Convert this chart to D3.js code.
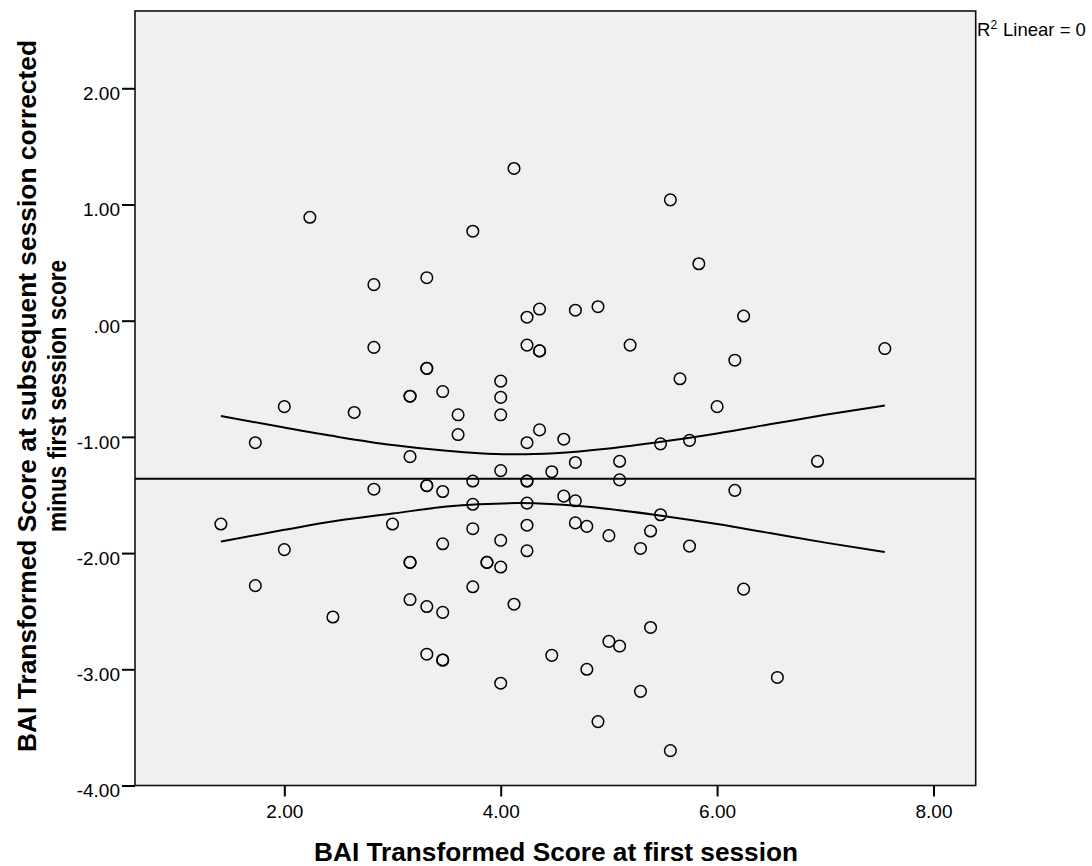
<!DOCTYPE html>
<html>
<head>
<meta charset="utf-8">
<script src="https://cdn.jsdelivr.net/npm/d3@7"></script>
<style>
  body { margin: 0; background: #fff; }
  text { font-family: "Liberation Sans", Arial, sans-serif; fill: #000; }
</style>
</head>
<body>
<div class="container"></div>
<script>
// first session score (sqrt transformed) and change score
var xVals = [1.414, 1.732, 1.732, 2.0, 2.0, 2.236, 2.449, 2.646, 2.828, 2.828, 2.828, 3.0,
  3.162, 3.162, 3.162, 3.162, 3.162, 3.162, 3.317, 3.317, 3.317, 3.317, 3.317, 3.317, 3.317,
  3.464, 3.464, 3.464, 3.464, 3.464, 3.464, 3.606, 3.606, 3.742, 3.742, 3.742, 3.742, 3.742,
  3.873, 3.873, 4.0, 4.0, 4.0, 4.0, 4.0, 4.0, 4.0, 4.123, 4.123, 4.243, 4.243, 4.243, 4.243,
  4.243, 4.243, 4.243, 4.243, 4.359, 4.359, 4.359, 4.359, 4.472, 4.472, 4.583, 4.583, 4.690,
  4.690, 4.690, 4.690, 4.796, 4.796, 4.899, 4.899, 5.0, 5.0, 5.099, 5.099, 5.099, 5.196, 5.292,
  5.292, 5.385, 5.385, 5.477, 5.477, 5.568, 5.568, 5.657, 5.745, 5.745, 5.831, 6.0, 6.164,
  6.164, 6.245, 6.245, 6.557, 6.928, 7.550];
var yVals = [-1.75, -1.05, -2.28, -0.74, -1.97, 0.89, -2.55, -0.79, 0.31, -0.23, -1.45, -1.75,
  -0.65, -0.65, -1.17, -2.08, -2.08, -2.40, 0.37, -0.41, -0.41, -1.42, -1.42, -2.46, -2.87,
  -0.61, -1.47, -1.92, -2.51, -2.92, -2.92, -0.81, -0.98, 0.77, -1.38, -1.58, -1.79, -2.29,
  -2.08, -2.08, -0.52, -0.66, -0.81, -1.29, -1.89, -2.12, -3.12, 1.31, -2.44, 0.03, -0.21,
  -1.05, -1.38, -1.38, -1.57, -1.76, -1.98, 0.10, -0.26, -0.26, -0.94, -1.30, -2.88, -1.02,
  -1.51, 0.09, -1.22, -1.55, -1.74, -1.77, -3.00, 0.12, -3.45, -1.85, -2.76, -1.21, -1.37,
  -2.80, -0.21, -1.96, -3.19, -1.81, -2.64, -1.06, -1.67, 1.04, -3.70, -0.50, -1.03, -1.94,
  0.49, -0.74, -0.34, -1.46, 0.04, -2.31, -3.07, -1.21, -0.24];

// fit line (R2 = 0, flat) and the mean confidence band
var fitY = -1.36;
var bandX     = [1.414, 2, 2.5, 3, 3.5, 3.8, 4.15, 4.5, 5, 5.5, 6, 6.5, 7, 7.55];
var bandUpper = [-0.82, -0.92, -1.00, -1.07, -1.12, -1.14, -1.15, -1.14, -1.10, -1.04, -0.97, -0.89, -0.81, -0.73];
var bandLower = [-1.90, -1.80, -1.72, -1.66, -1.60, -1.58, -1.57, -1.58, -1.62, -1.68, -1.75, -1.83, -1.91, -1.99];

var xTicks = [2, 4, 6, 8];
var yTicks = [2, 1, 0, -1, -2, -3, -4];

var xTitle = 'BAI Transformed Score at first session';
var yTitle1 = 'BAI Transformed Score at subsequent session corrected';
var yTitle2 = 'minus first session score';

var svg = d3.select('.container')
    .append('svg')
    .attr('width', 1092)
    .attr('height', 866);

var x = d3.scaleLinear().domain([0.62, 8.39]).range([135, 975.7]);
var y = d3.scaleLinear().domain([-4, 2.665]).range([785.5, 11]);

// SPSS style labels: .00, -1.00 with a plain hyphen
function fmt(d) {
    var s = d3.format('.2f')(Math.abs(d));
    if (d == 0) s = '.00';
    if (d < 0) s = '-' + s;
    return s;
}

// plot background
svg.append('rect')
    .attr('x', x.range()[0])
    .attr('y', y.range()[1])
    .attr('width', x.range()[1] - x.range()[0])
    .attr('height', y.range()[0] - y.range()[1])
    .style('fill', '#f0f0f0');

// axes
var xAxis = svg.append('g')
    .attr('transform', 'translate(0,' + y.range()[0] + ')')
    .call(d3.axisBottom(x).tickValues(xTicks).tickSize(11).tickPadding(8).tickFormat(fmt));
xAxis.select('.domain').remove();
xAxis.selectAll('line').style('stroke', '#000').style('stroke-width', 2);
xAxis.selectAll('text').style('font-size', '19px');

var yAxis = svg.append('g')
    .attr('transform', 'translate(' + x.range()[0] + ',0)')
    .call(d3.axisLeft(y).tickValues(yTicks).tickSize(13).tickPadding(2).tickFormat(fmt));
yAxis.select('.domain').remove();
yAxis.selectAll('line').style('stroke', '#000').style('stroke-width', 2);
yAxis.selectAll('text').style('font-size', '19px').attr('dy', '0.6em');

// fit line
svg.append('line')
    .attr('x1', x.range()[0])
    .attr('x2', x.range()[1])
    .attr('y1', y(fitY))
    .attr('y2', y(fitY))
    .style('stroke', '#000')
    .style('stroke-width', 2);

// confidence band curves
var band = d3.line()
    .x(d => x(d[0]))
    .y(d => y(d[1]))
    .curve(d3.curveMonotoneX);

svg.append('path')
    .attr('d', band(d3.zip(bandX, bandUpper)))
    .style('fill', 'none')
    .style('stroke', '#000')
    .style('stroke-width', 2);

svg.append('path')
    .attr('d', band(d3.zip(bandX, bandLower)))
    .style('fill', 'none')
    .style('stroke', '#000')
    .style('stroke-width', 2);

// points
svg.selectAll('circle')
    .data(d3.zip(xVals, yVals))
    .enter()
    .append('circle')
    .attr('cx', d => x(d[0]))
    .attr('cy', d => y(d[1]))
    .attr('r', 5.8)
    .style('fill', 'none')
    .style('stroke', '#000')
    .style('stroke-width', 1.5);

// frame
svg.append('rect')
    .attr('x', x.range()[0])
    .attr('y', y.range()[1])
    .attr('width', x.range()[1] - x.range()[0])
    .attr('height', y.range()[0] - y.range()[1])
    .style('fill', 'none')
    .style('stroke', '#111')
    .style('stroke-width', 1.6);

// axis titles
svg.append('text')
    .attr('x', 556)
    .attr('y', 861)
    .attr('text-anchor', 'middle')
    .attr('textLength', 484)
    .attr('lengthAdjust', 'spacingAndGlyphs')
    .style('font-size', '26px')
    .style('font-weight', 'bold')
    .text(xTitle);

svg.append('text')
    .attr('transform', 'translate(36,396) rotate(-90)')
    .attr('text-anchor', 'middle')
    .attr('textLength', 712)
    .attr('lengthAdjust', 'spacingAndGlyphs')
    .style('font-size', '26px')
    .style('font-weight', 'bold')
    .text(yTitle1);

svg.append('text')
    .attr('transform', 'translate(66,396) rotate(-90)')
    .attr('text-anchor', 'middle')
    .attr('textLength', 272)
    .attr('lengthAdjust', 'spacingAndGlyphs')
    .style('font-size', '26px')
    .style('font-weight', 'bold')
    .text(yTitle2);

// R2 note
var note = svg.append('text')
    .attr('x', 977)
    .attr('y', 36)
    .style('font-size', '18.5px');
note.append('tspan').text('R');
note.append('tspan').attr('dy', -7).style('font-size', '12px').text('2');
note.append('tspan').attr('dy', 7).attr('dx', 6).text('Linear = 0');
</script>
</body>
</html>
